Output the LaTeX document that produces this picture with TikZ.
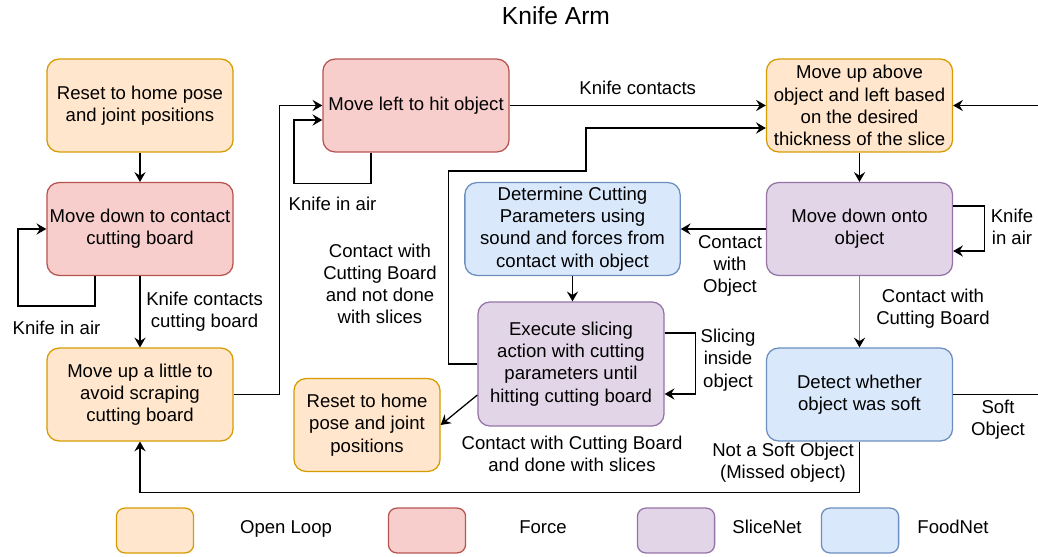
\documentclass[tikz,border=0pt]{standalone}
\usepackage{fontspec}
\setmainfont{Liberation Sans}
\usetikzlibrary{arrows.meta,calc}
\definecolor{openfill}{HTML}{FFE6CC}
\definecolor{opendraw}{HTML}{D79B00}
\definecolor{forcefill}{HTML}{F8CECC}
\definecolor{forcedraw}{HTML}{B85450}
\definecolor{slicefill}{HTML}{E1D5E7}
\definecolor{slicedraw}{HTML}{9673A6}
\definecolor{foodfill}{HTML}{DAE8FC}
\definecolor{fooddraw}{HTML}{6C8EBF}
\definecolor{greyline}{HTML}{808080}

\begin{document}
\begin{tikzpicture}[
            x=0.025cm, y=-0.025cm,
            font=\fontsize{13.2}{15.8}\selectfont,
            box/.style={rounded corners=8.5pt, line width=0.9pt, minimum width=4.65cm, minimum height=2.32cm, align=center, inner sep=1pt},
            openloop/.style={box, fill=openfill, draw=opendraw},
            force/.style={box, fill=forcefill, draw=forcedraw},
            slicenet/.style={box, fill=slicefill, draw=slicedraw},
            foodnet/.style={box, fill=foodfill, draw=fooddraw},
            key/.style={minimum width=1.93cm, minimum height=1.12cm, rounded corners=6pt},
            keytext/.style={text height=9.6pt, text depth=2.8pt, inner sep=0pt},
            link/.style={line width=0.9pt, -{Stealth[length=7pt, width=8pt, inset=2.5pt, color=black]}},
            lbl/.style={align=center, inner sep=0pt}
        ]
            \useasboundingbox (0,0) rectangle (1038,557);

            \node[font=\fontsize{17.5}{21}\selectfont, name=title] at (556,16) {Knife Arm};

            \node[openloop, name=resetA] at (140,105.5) {Reset to home pose\\and joint positions};
            \node[force, name=downboard] at (140,229) {Move down to contact\\cutting board};
            \node[openloop, name=upboard] at (140,394.5) {Move up a little to\\avoid scraping\\cutting board};
            \node[force, name=hitobj] at (416,105.5) {Move left to hit object};
            \node[openloop, name=above] at (859.5,105.5) {Move up above\\object and left based\\on the desired\\thickness of the slice};
            \node[slicenet, name=onto] at (859.5,229) {Move down onto\\object};
            \node[foodnet, minimum width=5.38cm, name=params] at (572.5,229) {Determine Cutting\\Parameters using\\sound and forces from\\contact with object};
            \node[slicenet, minimum height=3.1cm, name=slicing] at (571,364) {Execute slicing\\action with cutting\\parameters until\\hitting cutting board};
            \node[openloop, minimum width=3.65cm, name=resetB] at (367,425) {Reset to home\\pose and joint\\positions};
            \node[foodnet, name=soft] at (859.5,394.5) {Detect whether\\object was soft};

            \coordinate (turn) at (586,171);

            \draw[link] (resetA) -- (downboard);
            \draw[link] (downboard.south) ++(-45,0) -- ++(0,30) -- node[lbl, below=10pt, name=airA] {Knife in air} ++(-77,0) |- (downboard.west);
            \draw[link] (downboard) -- node[lbl, right=4pt, name=contactA] {Knife contacts\\cutting board} (upboard);
            \draw[link] (upboard.east) -- ++(46,0) |- (hitobj.west);
            \draw[link] (hitobj.south) ++(-45,0) -- ++(0,31) -- node[lbl, below=9pt, name=airB] {Knife in air} ++(-77,0) |- ($(hitobj.west)+(0,14.5)$);
            \draw[link] (hitobj) -- node[lbl, above=7pt, name=contactB] {Knife contacts} (above);
            \draw[link] (slicing.west) -- ++(-29,0) |- (turn) |- ($(above.west)+(0,22.5)$);
            \draw[link] (above) -- (onto);
            \draw[link] ($(onto.east)+(0,-23)$) -- ++(31,0) |- ($(onto.east)+(0,22)$);
            \draw[link] (onto) -- (params);
            \draw[link, draw=greyline] (onto) -- (soft);
            \draw[link] (params) -- (params.south |- slicing.north);
            \draw[link] ($(slicing.east)+(0,-31)$) -- ++(31,0) |- ($(slicing.east)+(0,30)$);
            \draw[link] ($(slicing.west)+(0,31)$) -- (resetB.east);
            \draw[link] (soft.east) -- ++(110,0) |- (above.east);
            \draw[link] (soft.south) -- ++(0,51) -| (upboard.south);

            \node[lbl, name=notdone] at (380,284) {Contact with\\Cutting Board\\and not done\\with slices};
            \node[lbl, name=airC] at (1012,227) {Knife\\in air};
            \node[lbl, name=withobj] at (730,266) {Contact\\with\\Object};
            \node[lbl, name=withboard] at (933,309) {Contact with\\Cutting Board};
            \node[lbl, name=inside] at (728,360) {Slicing\\inside\\object};
            \node[lbl, name=done] at (572,454) {Contact with Cutting Board\\and done with slices};
            \node[lbl, name=softobj] at (998,420) {Soft\\Object};
            \node[lbl, name=missed] at (783,463) {Not a Soft Object\\(Missed object)};

            \node[openloop, key, name=keyopen] at (155,530.5) {};
            \node[force, key, name=keyforce] at (427,530.5) {};
            \node[slicenet, key, name=keyslice] at (676,530.5) {};
            \node[foodnet, key, name=keyfood] at (860,530.5) {};
            \node[keytext, name=txtopen] at (286,529) {Open Loop};
            \node[keytext, name=txtforce] at (543,529) {Force};
            \node[keytext, name=txtslice] at (767,529) {SliceNet};
            \node[keytext, name=txtfood] at (953,529) {FoodNet};
        \end{tikzpicture}
\end{document}
